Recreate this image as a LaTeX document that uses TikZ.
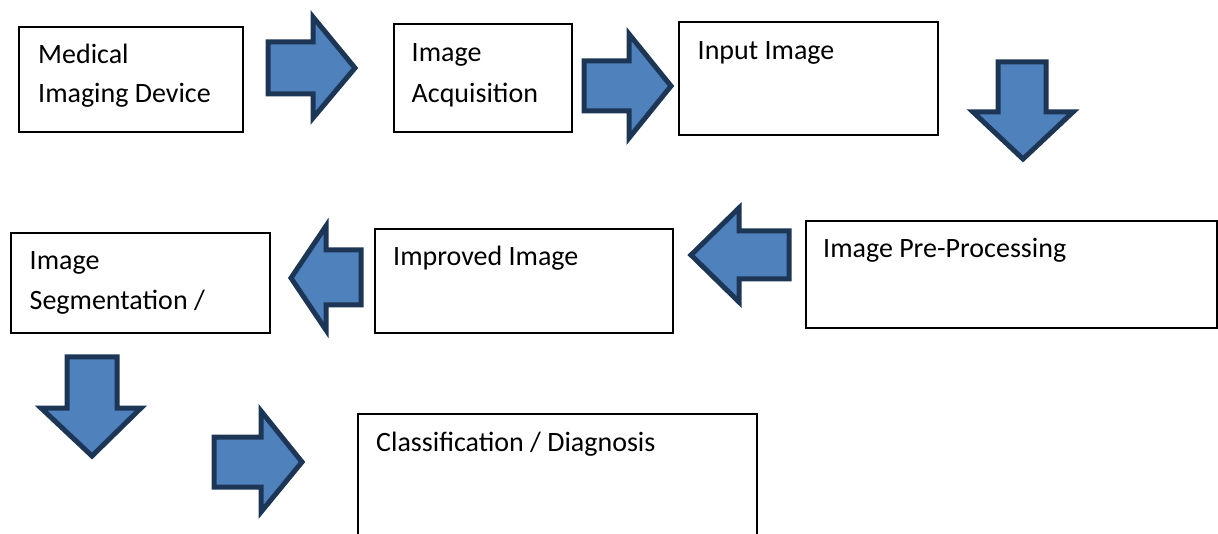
\documentclass[tikz,border=0pt]{standalone}
\usepackage{fontspec}
\setmainfont{Carlito}
\definecolor{arrowfill}{RGB}{79,129,189}
\definecolor{arrowline}{RGB}{30,54,86}
\tikzset{
  box/.style={draw=black, line width=1.8pt, fill=white, anchor=north west, inner sep=0pt},
  lbl/.style={anchor=base west, inner sep=0pt, font=\fontsize{28}{34}\selectfont},
  blockarrow/.style={fill=arrowfill, draw=arrowline, line width=5pt, line join=miter, miter limit=10},
}
\begin{document}
\begin{tikzpicture}[x=1pt, y=-1pt]
\clip (0,0) rectangle (1218,534);
\fill[white] (0,0) rectangle (1218,534);

% process boxes
\node[box, minimum width=224pt, minimum height=105pt] (dev) at (18,26) {};
\node[box, minimum width=178pt, minimum height=108pt] (acq) at (393,23) {};
\node[box, minimum width=259pt, minimum height=113pt] (inp) at (678,21) {};
\node[box, minimum width=411pt, minimum height=107pt] (pre) at (805,220) {};
\node[box, minimum width=298pt, minimum height=104pt] (imp) at (374,228) {};
\node[box, minimum width=259pt, minimum height=100pt] (seg) at (10,232) {};
\node[box, minimum width=399pt, minimum height=150pt] (cls) at (357,413) {};

% box captions
\node[lbl] (devA) at (38,63.5) {Medical};
\node[lbl] (devB) at (38,102.5) {Imaging Device};
\node[lbl] (acqA) at (411.5,62) {Image};
\node[lbl] (acqB) at (411.5,102.5) {Acquisition};
\node[lbl] (inpA) at (697.5,59.5) {Input Image};
\node[lbl] (preA) at (823,257.5) {Image Pre-Processing};
\node[lbl] (impA) at (393,266) {Improved Image};
\node[lbl] (segA) at (29.5,269.5) {Image};
\node[lbl] (segB) at (29.5,310) {Segmentation /};
\node[lbl] (clsA) at (376,451) {Classification / Diagnosis};

% block arrows between the stages
\draw[blockarrow] (268,42) -- (313,42) -- (313,17) -- (355,68) -- (313,118) -- (313,94) -- (268,94) -- cycle;
\draw[blockarrow] (584,61) -- (629,61) -- (629,34) -- (671,86) -- (629,138) -- (629,111) -- (584,111) -- cycle;
\draw[blockarrow] (998,62) -- (1046,62) -- (1046,112) -- (1073,112) -- (1023,159) -- (973,112) -- (998,112) -- cycle;
\draw[blockarrow] (789,231) -- (739,231) -- (739,208) -- (691,255) -- (739,302) -- (739,279) -- (789,279) -- cycle;
\draw[blockarrow] (361,250) -- (326,250) -- (326,226) -- (291,278) -- (326,330) -- (326,305) -- (361,305) -- cycle;
\draw[blockarrow] (67,357) -- (117,357) -- (117,408) -- (141,408) -- (92,456) -- (41,408) -- (67,408) -- cycle;
\draw[blockarrow] (214,437) -- (261,437) -- (261,411) -- (302,462) -- (261,512) -- (261,487) -- (214,487) -- cycle;
\end{tikzpicture}
\end{document}
